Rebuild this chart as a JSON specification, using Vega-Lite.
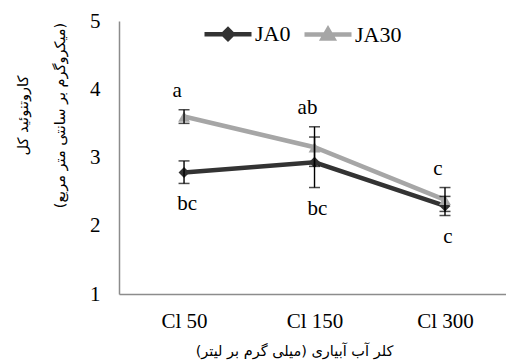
{
  "$schema": "https://vega.github.io/schema/vega-lite/v6.json",
  "autosize": {"type": "none"},
  "padding": {"left": 119, "top": 21, "right": 0, "bottom": 69},
  "width": 387,
  "height": 273,
  "background": "white",
  "config": {
    "view": {"stroke": null},
    "font": "'Liberation Serif', 'Times New Roman', serif"
  },
  "data": {
    "values": [
      {"cl": "Cl 50", "s": "JA0", "v": 2.78, "lo": 2.62, "hi": 2.95, "let": "bc"},
      {"cl": "Cl 150", "s": "JA0", "v": 2.93, "lo": 2.56, "hi": 3.30, "let": "bc"},
      {"cl": "Cl 300", "s": "JA0", "v": 2.29, "lo": 2.15, "hi": 2.43, "let": "c"},
      {"cl": "Cl 50", "s": "JA30", "v": 3.60, "lo": 3.50, "hi": 3.70, "let": "a"},
      {"cl": "Cl 150", "s": "JA30", "v": 3.15, "lo": 2.87, "hi": 3.45, "let": "ab"},
      {"cl": "Cl 300", "s": "JA30", "v": 2.38, "lo": 2.21, "hi": 2.56, "let": "c"}
    ]
  },
  "encoding": {
    "x": {
      "field": "cl", "type": "ordinal", "sort": ["Cl 50", "Cl 150", "Cl 300"],
      "scale": {"type": "point", "padding": 0.483, "align": 0.516},
      "axis": {
        "title": "کلر آب آبیاری (میلی گرم بر لیتر)",
        "titleFont": "'DejaVu Sans', sans-serif", "titleFontSize": 14.5, "titleFontWeight": "normal", "titleColor": "black",
        "titleX": 175, "titleY": 57, "titleBaseline": "middle", "titleAnchor": null, "titleAlign": "center",
        "labelFont": "'Liberation Serif', 'Times New Roman', serif", "labelFontSize": 21, "labelColor": "black", "labelAngle": 0, "labelPadding": 16,
        "ticks": false, "domainColor": "#8c8c8c", "domainWidth": 1.5, "grid": false
      }
    },
    "y": {
      "type": "quantitative",
      "scale": {"domain": [1, 5]},
      "axis": {
        "title": ["کاروتنوئید کل", "(میکروگرم بر سانتی متر مربع)"],
        "titleFont": "'DejaVu Sans', sans-serif", "titleFontSize": 14.5, "titleFontWeight": "normal", "titleColor": "black",
        "titleAngle": 270, "titleX": -96, "titleY": 94, "titleBaseline": "middle", "titleAlign": "center", "titleLineHeight": 37,
        "values": [1, 2, 3, 4, 5],
        "labelFont": "'Liberation Serif', 'Times New Roman', serif", "labelFontSize": 21, "labelColor": "black", "labelPadding": 19,
        "ticks": false, "domainColor": "#8c8c8c", "domainWidth": 1.5, "grid": false
      }
    }
  },
  "layer": [
    {
      "mark": {"type": "line", "strokeWidth": 4.5},
      "encoding": {
        "y": {"field": "v", "type": "quantitative"},
        "color": {
          "field": "s", "type": "nominal",
          "scale": {"domain": ["JA0", "JA30"], "range": ["#333333", "#a6a6a6"]},
          "legend": {
            "orient": "none", "legendX": 83, "legendY": -13, "direction": "horizontal", "title": null,
            "symbolType": "M-1,0H1", "symbolSize": 2209, "symbolStrokeWidth": 4,
            "labelFont": "'Liberation Serif', 'Times New Roman', serif", "labelFontSize": 22, "labelColor": "black", "labelOffset": 1,
            "columnPadding": 4,
            "encode": {
              "symbols": {
                "update": {
                  "shape": {"signal": "datum.value === 'JA0' ? 'M-1,0H1M-0.2,0L0,-0.2L0.2,0L0,0.2Z' : 'M-1,0H1M-0.22,0.16L0,-0.22L0.22,0.16Z'"},
                  "fill": {"signal": "datum.value === 'JA0' ? '#333333' : '#a6a6a6'"},
                  "strokeWidth": {"value": 4.5}
                }
              }
            }
          }
        }
      }
    },
    {
      "transform": [{"filter": "datum.s === 'JA0'"}],
      "mark": {"type": "point", "shape": "diamond", "filled": true, "size": 120, "color": "#333333", "opacity": 1},
      "encoding": {"y": {"field": "v", "type": "quantitative"}}
    },
    {
      "transform": [{"filter": "datum.s === 'JA30'"}],
      "mark": {"type": "point", "shape": "triangle-up", "filled": true, "size": 140, "color": "#a6a6a6", "opacity": 1},
      "encoding": {"y": {"field": "v", "type": "quantitative"}}
    },
    {
      "mark": {"type": "errorbar", "ticks": {"size": 11, "color": "black", "thickness": 1.5}, "rule": {"color": "black", "strokeWidth": 1.4}},
      "encoding": {
        "y": {"field": "lo", "type": "quantitative"},
        "y2": {"field": "hi"}
      }
    },
    {
      "transform": [{"filter": "datum.s === 'JA30'"}],
      "mark": {"type": "text", "font": "'Liberation Serif', 'Times New Roman', serif", "fontSize": 21, "color": "black", "baseline": "middle", "dy": -19, "dx": -7},
      "encoding": {"y": {"field": "hi", "type": "quantitative"}, "text": {"field": "let"}}
    },
    {
      "transform": [{"filter": "datum.s === 'JA0'"}],
      "mark": {"type": "text", "font": "'Liberation Serif', 'Times New Roman', serif", "fontSize": 21, "color": "black", "baseline": "middle", "dy": 21, "dx": 3},
      "encoding": {"y": {"field": "lo", "type": "quantitative"}, "text": {"field": "let"}}
    }
  ]
}
